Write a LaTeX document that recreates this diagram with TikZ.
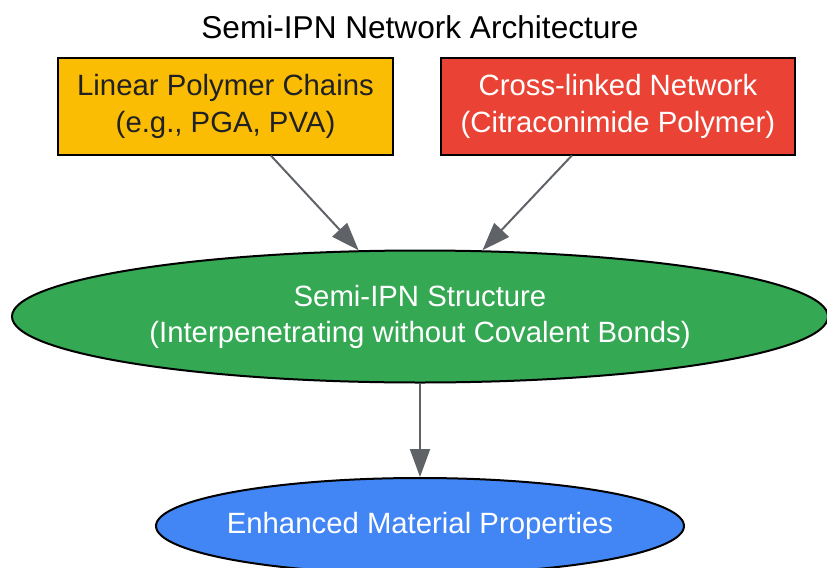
\documentclass[tikz,border=0pt]{standalone}
\usepackage{fontspec}
\setmainfont{Liberation Sans}
\usetikzlibrary{arrows.meta,shapes.geometric}
\definecolor{ipnyellow}{HTML}{FBBC04}
\definecolor{ipnred}{HTML}{EA4335}
\definecolor{ipngreen}{HTML}{34A853}
\definecolor{ipnblue}{HTML}{4285F4}
\definecolor{ipngray}{HTML}{5F6368}
\definecolor{ipntext}{HTML}{202124}

\begin{document}
\begin{tikzpicture}[
    x=0.75pt, y=-0.75pt,
    component/.style={rectangle, draw=black, line width=1.5pt, minimum height=72pt, inner sep=0pt, align=center, font=\fontsize{22}{27.5}\selectfont},
    blob/.style={ellipse, draw=black, line width=1.5pt, inner sep=0pt, align=center, text=white, font=\fontsize{22}{27}\selectfont},
    arrow/.style={-{Triangle[length=21pt,width=15pt]}, line width=1.5pt, ipngray}
]
    \useasboundingbox (0,0) rectangle (827,567);

    % Title
    \node[font=\fontsize{23.7}{28}\selectfont] (title) at (420,27) {Semi-IPN Network Architecture};

    % Components
    \node[component, fill=ipnyellow, text=ipntext, minimum width=251pt] (linear) at (225.5,106.5) {Linear Polymer Chains\\(e.g., PGA, PVA)};
    \node[component, fill=ipnred, text=white, minimum width=265.5pt] (crosslinked) at (618,106.5) {Cross-linked Network\\(Citraconimide Polymer)};

    % Structure and result
    \node[blob, fill=ipngreen, minimum width=612pt, minimum height=99pt] (semiipn) at (420,316.5) {Semi-IPN Structure\\(Interpenetrating without Covalent Bonds)};
    \node[blob, fill=ipnblue, inner xsep=-6pt, minimum width=396pt, minimum height=72pt] (props) at (420,526) {Enhanced Material Properties};

    % Connections
    \draw[arrow] (linear) -- (semiipn);
    \draw[arrow] (crosslinked) -- (semiipn);
    \draw[arrow] (semiipn) -- (props);
\end{tikzpicture}
\end{document}
